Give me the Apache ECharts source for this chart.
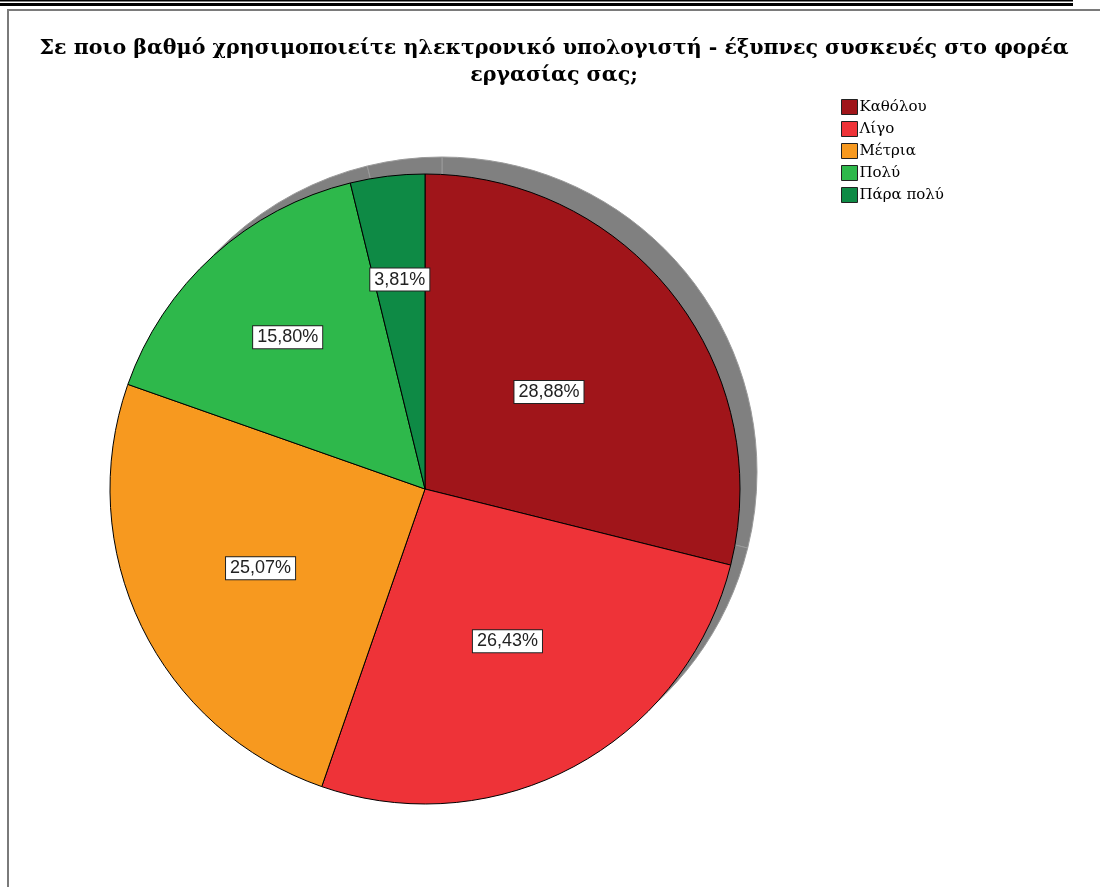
<!DOCTYPE html>
<html>
<head>
<meta charset="utf-8">
<script src="https://cdn.jsdelivr.net/npm/echarts@6/dist/echarts.min.js"></script>
<style>
  html, body { margin: 0; padding: 0; background: #ffffff; }
  #chart { width: 1100px; height: 887px; }
</style>
</head>
<body>
<div id="chart"></div>
<script>
// Response categories and their shares (%)
const categories = ['Καθόλου', 'Λίγο', 'Μέτρια', 'Πολύ', 'Πάρα πολύ'];
const shares = [28.88, 26.43, 25.07, 15.80, 3.81];
const sliceColors = ['#A0151A', '#EE3338', '#F7991F', '#2EB84B', '#0E8A45'];
const titleText = 'Σε ποιο βαθμό χρησιμοποιείτε ηλεκτρονικό υπολογιστή - έξυπνες συσκευές στο φορέα\nεργασίας σας;';

const pieCenter = [425, 489];
const pieRadius = 315;
const shadowOffset = [17, -17];
// distance of each value box from the centre, as a fraction of the radius
const labelRadiusFrac = [0.49, 0.54, 0.57, 0.64, 0.66];

const chart = echarts.init(document.getElementById('chart'), null, { renderer: 'canvas' });

const total = shares.reduce((a, b) => a + b, 0);
let acc = 0;
const sliceData = categories.map((name, i) => {
  const mid = (acc + shares[i] / 2) / total * Math.PI * 2; // clockwise from 12 o'clock
  acc += shares[i];
  const shift = (labelRadiusFrac[i] - 0.5) * pieRadius;
  return {
    name: name,
    value: shares[i],
    itemStyle: { color: sliceColors[i] },
    label: { offset: [shift * Math.sin(mid), -shift * Math.cos(mid)] }
  };
});

// the grey copy uses its own names so the legend keeps the slice colours
const shadowData = categories.map((name, i) => ({ name: 'shadow-' + i, value: shares[i] }));

chart.setOption({
  backgroundColor: '#ffffff',
  animation: false,
  title: {
    text: titleText,
    left: 549,
    top: 30,
    textAlign: 'center',
    textStyle: {
      fontFamily: 'DejaVu Serif',
      fontWeight: 'bold',
      fontSize: 20.6,
      lineHeight: 27,
      color: '#000000'
    }
  },
  legend: {
    orient: 'vertical',
    left: 836,
    top: 94,
    itemWidth: 16,
    itemHeight: 15,
    itemGap: 6,
    icon: 'rect',
    selectedMode: false,
    data: categories.map((name, i) => ({
      name: name,
      itemStyle: { color: sliceColors[i], borderColor: '#222222', borderWidth: 1 }
    })),
    textStyle: {
      fontFamily: 'DejaVu Serif',
      fontSize: 15,
      lineHeight: 16,
      color: '#000000',
      padding: [0, 0, 0, -3]
    }
  },
  graphic: [
    { type: 'rect', shape: { x: 0, y: 0, width: 1073, height: 1.5 }, style: { fill: '#000000' }, silent: true },
    { type: 'rect', shape: { x: 0, y: 3, width: 1073, height: 3 }, style: { fill: '#000000' }, silent: true },
    { type: 'rect', shape: { x: 7, y: 9, width: 1093, height: 2 }, style: { fill: '#7a7a7a' }, silent: true },
    { type: 'rect', shape: { x: 7, y: 9, width: 2, height: 878 }, style: { fill: '#7a7a7a' }, silent: true }
  ],
  series: [
    {
      type: 'pie',
      z: 2,
      center: pieCenter,
      radius: pieRadius,
      startAngle: 90,
      clockwise: true,
      itemStyle: { borderColor: '#000000', borderWidth: 1 },
      label: {
        show: true,
        position: 'inside',
        formatter: (p) => p.value.toFixed(2).replace('.', ',') + '%',
        fontFamily: 'Liberation Sans',
        fontSize: 18,
        color: '#222222',
        backgroundColor: '#ffffff',
        borderColor: '#222222',
        borderWidth: 1,
        padding: [3, 4, 1, 4]
      },
      labelLine: { show: false },
      emphasis: { disabled: true },
      data: sliceData
    },
    {
      // Offset grey copy of the pie that reads as a drop shadow
      type: 'pie',
      silent: true,
      z: 1,
      center: [pieCenter[0] + shadowOffset[0], pieCenter[1] + shadowOffset[1]],
      radius: pieRadius,
      startAngle: 90,
      clockwise: true,
      label: { show: false },
      labelLine: { show: false },
      itemStyle: { color: '#808080', borderColor: '#9a9a9a', borderWidth: 1 },
      data: shadowData
    }
  ]
});
</script>
</body>
</html>
